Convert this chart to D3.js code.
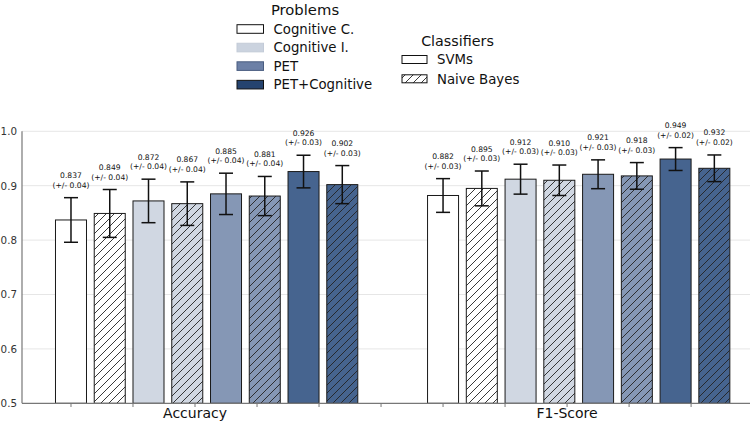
<!DOCTYPE html>
<html><head><meta charset="utf-8">
<script src="https://cdn.jsdelivr.net/npm/d3@7"></script>
<style>body{margin:0;background:#fff}svg{display:block;font-family:"DejaVu Sans",sans-serif}</style>
</head><body><svg id="c" width="752" height="422"></svg>
<script>
const metrics = ["Accuracy", "F1-Score"];
const problems = ["Cognitive C.", "Cognitive I.", "PET", "PET+Cognitive"];
const classifiers = ["SVMs", "Naive Bayes"];
const accuracyValues = [0.837, 0.849, 0.872, 0.867, 0.885, 0.881, 0.926, 0.902];
const accuracyErrors = [0.041, 0.044, 0.040, 0.040, 0.038, 0.036, 0.030, 0.035];
const accuracyLabels = ["0.04", "0.04", "0.04", "0.04", "0.04", "0.04", "0.03", "0.03"];
const f1Values = [0.882, 0.895, 0.912, 0.910, 0.921, 0.918, 0.949, 0.932];
const f1Errors = [0.031, 0.032, 0.0275, 0.028, 0.0265, 0.0245, 0.021, 0.0245];
const f1Labels = ["0.03", "0.03", "0.03", "0.03", "0.03", "0.03", "0.02", "0.02"];
const yTicks = [0.5, 0.6, 0.7, 0.8, 0.9, 1.0];
const problemColors = ["#ffffff", "#cbd3df", "#6c80a6", "#25436f"];
const barColors = ["#ffffff", "#d0d7e2", "#8597b5", "#46648f"];

const svg = d3.select("#c");
const x = d3.scaleLinear().domain([-0.79, 10.95]).range([22, 750]);
const y = d3.scaleLinear().domain([0.5, 1.0]).range([403.3, 131.3]);

const defs = svg.append("defs");
barColors.forEach((c, i) => {
  const p = defs.append("pattern").attr("id", "h" + i).attr("patternUnits", "userSpaceOnUse")
    .attr("width", 8).attr("height", 8);
  p.append("rect").attr("width", 8).attr("height", 8).attr("fill", c);
  p.append("path").attr("d", "M-2,2 L2,-2 M0,8 L8,0 M6,10 L10,6")
    .attr("stroke", "#222").attr("stroke-width", 0.9);
});

// grid
svg.append("g").selectAll("line").data(yTicks.slice(1)).join("line")
  .attr("x1", 22).attr("x2", 750).attr("y1", d => y(d)).attr("y2", d => y(d))
  .attr("stroke", "#e6e6e6").attr("stroke-width", 1);

// data table
const rows = [];
[[accuracyValues, accuracyErrors, accuracyLabels, 0], [f1Values, f1Errors, f1Labels, 6]].forEach(([vals, errs, labs, off]) => {
  vals.forEach((v, i) => rows.push({v, e: errs[i], lab: labs[i], pos: off + i * 0.625, prob: Math.floor(i / 2), hatch: i % 2}));
});
const bw = x(0.5) - x(0);

const bars = svg.append("g");
bars.selectAll("rect").data(rows).join("rect")
  .attr("x", d => x(d.pos) - bw / 2).attr("width", bw)
  .attr("y", d => y(d.v)).attr("height", d => y(0.5) - y(d.v))
  .attr("fill", d => d.hatch ? `url(#h${d.prob})` : barColors[d.prob])
  .attr("stroke", "#1a1a1a").attr("stroke-width", 1);

// error bars
const eb = svg.append("g").attr("stroke", "#111").attr("stroke-width", 1.5);
rows.forEach(d => {
  const cx = x(d.pos);
  eb.append("line").attr("x1", cx).attr("x2", cx).attr("y1", y(d.v + d.e)).attr("y2", y(d.v - d.e));
  eb.append("line").attr("x1", cx - 7).attr("x2", cx + 7).attr("y1", y(d.v + d.e)).attr("y2", y(d.v + d.e));
  eb.append("line").attr("x1", cx - 7).attr("x2", cx + 7).attr("y1", y(d.v - d.e)).attr("y2", y(d.v - d.e));
});

// value labels
const lg = svg.append("g").attr("font-size", 7.6).attr("fill", "#111").attr("text-anchor", "middle");
rows.forEach(d => {
  const top = y(d.v + d.e);
  lg.append("text").attr("x", x(d.pos)).attr("y", top - 19.5).text(d.v.toFixed(3));
  lg.append("text").attr("x", x(d.pos)).attr("y", top - 10).text(`(+/- ${d.lab})`);
});

// axes
svg.append("line").attr("x1", 22).attr("x2", 22).attr("y1", 131.3).attr("y2", 403.3).attr("stroke", "#777").attr("stroke-width", 1.2);
svg.append("line").attr("x1", 22).attr("x2", 750).attr("y1", 403.3).attr("y2", 403.3).attr("stroke", "#777").attr("stroke-width", 1.2);
svg.append("g").selectAll("line").data(d3.range(0, 11)).join("line")
  .attr("x1", d => x(d)).attr("x2", d => x(d)).attr("y1", 403.3).attr("y2", 407)
  .attr("stroke", "#777").attr("stroke-width", 1);
svg.append("g").selectAll("text").data(yTicks).join("text")
  .attr("x", 17).attr("y", d => y(d) + 3.8).attr("text-anchor", "end")
  .attr("font-size", 10.3).attr("fill", "#333").text(d => d.toFixed(1));
svg.append("g").selectAll("text").data(metrics).join("text")
  .attr("x", (d, i) => x(i === 0 ? 2 : 8)).attr("y", 418).attr("text-anchor", "middle")
  .attr("font-size", 14).attr("fill", "#111").text(d => d);

// legend Problems
const L1 = svg.append("g");
L1.append("text").attr("x", 305).attr("y", 15).attr("text-anchor", "middle").attr("font-size", 14.8).attr("fill", "#111").text("Problems");
const pStroke = ["#111", "#c3cbd8", "#4a5d80", "#111"];
problems.forEach((p, i) => {
  const cy = 29 + i * 18.55;
  L1.append("rect").attr("x", 237).attr("y", cy - 4.3).attr("width", 26.5).attr("height", 8.6)
    .attr("fill", problemColors[i]).attr("stroke", pStroke[i]).attr("stroke-width", 1);
  L1.append("text").attr("x", 273.5).attr("y", cy + 4.8).attr("font-size", 13.3).attr("fill", "#111").text(p);
});

// legend Classifiers
const L2 = svg.append("g");
L2.append("text").attr("x", 457.5).attr("y", 46.3).attr("text-anchor", "middle").attr("font-size", 14.3).attr("fill", "#111").text("Classifiers");
classifiers.forEach((c, i) => {
  const cy = 59.5 + i * 19.3;
  L2.append("rect").attr("x", 402).attr("y", cy - 4).attr("width", 25).attr("height", 8)
    .attr("fill", i ? "url(#h0)" : "#fff").attr("stroke", "#111").attr("stroke-width", 1);
  L2.append("text").attr("x", 437).attr("y", cy + 4.8).attr("font-size", 13.3).attr("fill", "#111").text(c);
});
</script></body></html>
